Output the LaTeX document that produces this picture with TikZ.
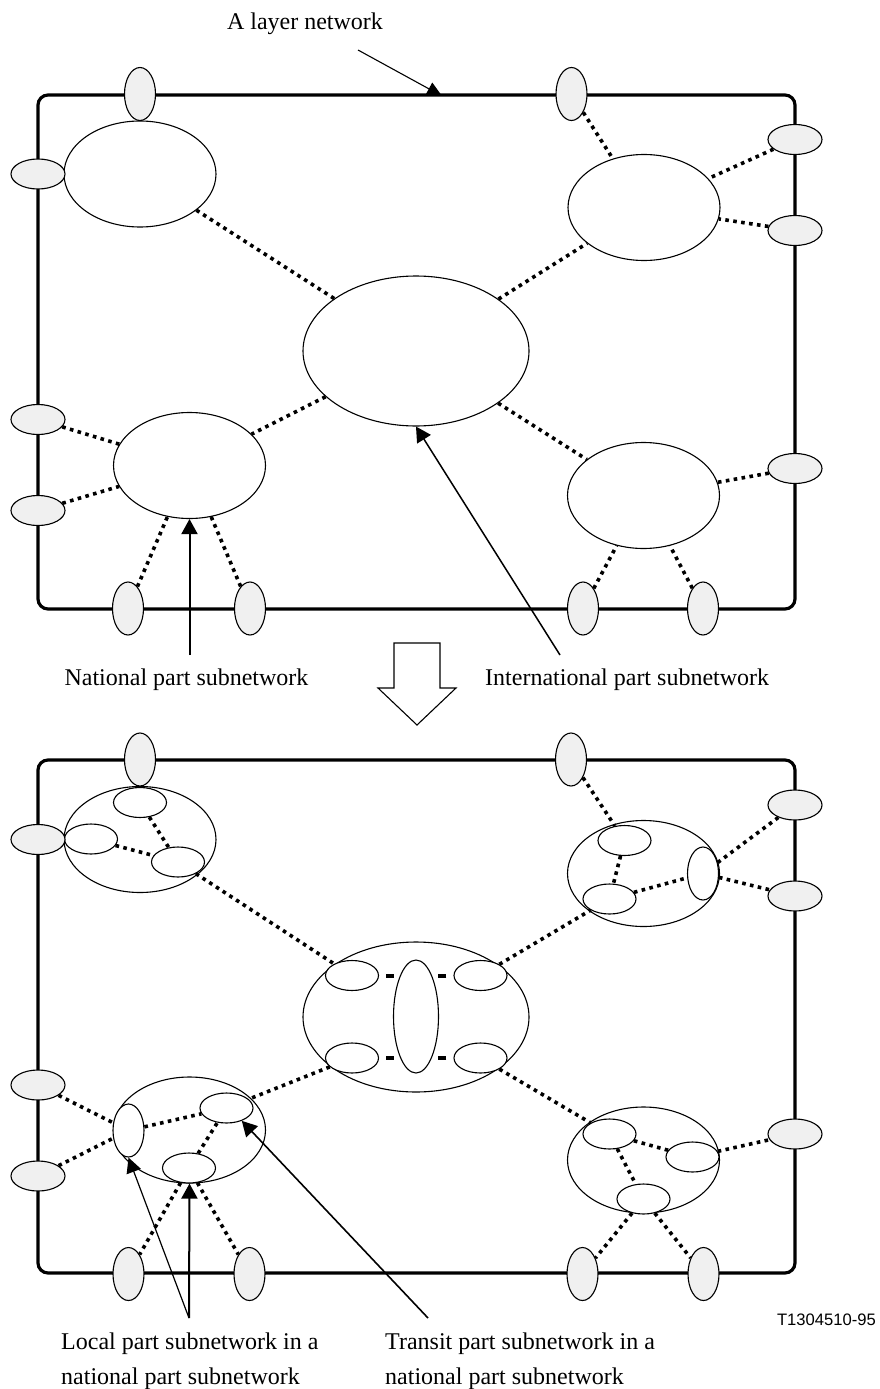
\documentclass[tikz,border=0pt]{standalone}
\usepackage{fontspec}
\setmainfont{Liberation Serif}
\newfontfamily\labelsans{Liberation Sans}
\usetikzlibrary{shapes.geometric,arrows.meta}
\definecolor{portgray}{RGB}{240,240,240}
\begin{document}
\begin{tikzpicture}[x=1pt,y=-1pt,
  frame/.style={line width=3.2pt, rounded corners=10pt},
  port/.style={ellipse, draw, line width=1.1pt, fill=portgray, inner sep=0pt},
  portv/.style={port, minimum width=31pt, minimum height=53pt},
  porth/.style={port, minimum width=54pt, minimum height=30pt},
  subn/.style={ellipse, draw, line width=1.1pt, fill=white, inner sep=0pt},
  bigsub/.style={subn, minimum width=152pt, minimum height=106pt},
  censub/.style={subn, minimum width=226pt, minimum height=150pt},
  innh/.style={subn, minimum width=53pt, minimum height=30pt},
  innv/.style={subn, minimum width=31pt, minimum height=53pt},
  link/.style={line width=3.6pt, dash pattern=on 3.6pt off 4.4pt},
  dashlink/.style={line width=4pt, shorten <=7pt, shorten >=-1pt},
  lbl/.style={font=\fontsize{24}{28}\selectfont, inner sep=0pt},
  ptr/.style={line width=2pt, -{Triangle[length=15pt,width=16pt]}},
  thinptr/.style={line width=1.2pt, -{Triangle[length=15pt,width=15pt]}},
]
\useasboundingbox (0,0) rectangle (880,1389);

% ---------------- top panel ----------------
\draw[frame] (38,95) rectangle (795,609);
\node[bigsub] (tl) at (140,174) {};
\node[bigsub] (tr) at (644,207.5) {};
\node[censub] (ctr) at (416,351) {};
\node[bigsub] (bl) at (189.5,465.5) {};
\node[bigsub] (br) at (643.5,495.5) {};

\node[portv] (p1) at (140,94) {};
\node[porth] (p2) at (38,174) {};
\node[portv] (p3) at (571.5,94) {};
\node[porth] (p4) at (795,139.5) {};
\node[porth] (p5) at (795,230.5) {};
\node[porth] (p6) at (38,419.5) {};
\node[porth] (p7) at (38,510.5) {};
\node[portv] (p8) at (128,608.5) {};
\node[portv] (p9) at (250,608.5) {};
\node[portv] (p10) at (583,608.5) {};
\node[portv] (p11) at (703,608.5) {};
\node[porth] (p12) at (795,468.5) {};

\draw[link] (tl) -- (ctr);
\draw[link] (ctr) -- (tr);
\draw[link] (ctr) -- (bl);
\draw[link] (ctr) -- (br);
\draw[link] (p3) -- (tr);
\draw[link] (p4) -- (tr);
\draw[link] (p5) -- (tr);
\draw[link] (p6) -- (bl);
\draw[link] (p7) -- (bl);
\draw[link] (p8) -- (bl);
\draw[link] (p9) -- (bl);
\draw[link] (p12) -- (br);
\draw[link] (p10) -- (br);
\draw[link] (p11) -- (br);

\node[lbl, anchor=base] (layer) at (305,30) {A layer network};
\coordinate (layertail) at (358,50);
\coordinate (layertip) at (442,96);
\draw[line width=1.1pt, -{Triangle[length=15pt,width=14pt]}] (layertail) -- (layertip);

\node[lbl, anchor=base] (natl) at (186.5,685) {National part subnetwork};
\coordinate (natltail) at (189.5,655);
\draw[ptr] (natltail) -- (bl.south);

\node[lbl, anchor=base west] (intl) at (485,685) {International part subnetwork};
\coordinate (intltail) at (560,655);
\draw[ptr, line width=1.5pt] (intltail) -- (ctr.south);

% hollow transition arrow
\draw[line width=1.1pt, fill=white] (394,643) -- (440,643) -- (440,688) -- (456,688)
  -- (417,725) -- (378,688) -- (394,688) -- cycle;

% ---------------- bottom panel ----------------
\draw[frame] (38,760) rectangle (795,1273);
\node[bigsub] (btl) at (140,839.5) {};
\node[bigsub] (btr) at (643.5,873.5) {};
\node[censub] (bctr) at (416,1017) {};
\node[bigsub] (bbl) at (189.5,1130) {};
\node[bigsub] (bbr) at (643.5,1160) {};

\node[innh] (btlA) at (140,802.5) {};
\node[innh] (btlB) at (91,839) {};
\node[innh] (btlC) at (178,862) {};
\node[innh] (btrA) at (624.5,840.5) {};
\node[innh] (btrC) at (609.5,899) {};
\node[innv] (btrV) at (703,873.5) {};
\node[innh] (bcA) at (352,975.5) {};
\node[innh] (bcB) at (480.5,975.5) {};
\node[innh] (bcC) at (352,1058) {};
\node[innh] (bcD) at (480.5,1058) {};
\node[subn, minimum width=45pt, minimum height=113pt] (bcV) at (416,1016.5) {};
\node[innv] (bblV) at (128.5,1130.5) {};
\node[innh] (bblT) at (226.5,1108) {};
\node[innh] (bblB) at (189,1168) {};
\node[innh] (bbrA) at (609.5,1134) {};
\node[innh] (bbrR) at (692.5,1157) {};
\node[innh] (bbrB) at (643.5,1199) {};

\node[portv] (q1) at (140,759.5) {};
\node[porth] (q2) at (38,839.5) {};
\node[portv] (q3) at (571,759.5) {};
\node[porth] (q4) at (795,805) {};
\node[porth] (q5) at (795,896) {};
\node[porth] (q6) at (38,1085) {};
\node[porth] (q7) at (38,1176) {};
\node[portv] (q8) at (128.5,1274) {};
\node[portv] (q9) at (249.5,1274) {};
\node[portv] (q10) at (582.5,1274) {};
\node[portv] (q11) at (703.5,1274) {};
\node[porth] (q12) at (795,1134) {};

\draw[link] (btlA) -- (btlC);
\draw[link] (btlB) -- (btlC);
\draw[link] (btlC) -- (bcA);
\draw[link] (bcB) -- (btrC);
\draw[link] (bcC) -- (bblT);
\draw[link] (bcD) -- (bbrA);
\draw[link] (q3) -- (btrA);
\draw[link] (btrA) -- (btrC);
\draw[link] (btrC) -- (btrV);
\draw[link] (btrV) -- (q4);
\draw[link] (btrV) -- (q5);
\draw[link] (q6) -- (bblV);
\draw[link] (q7) -- (bblV);
\draw[link] (bblV) -- (bblT);
\draw[link] (bblB) -- (bblT);
\draw[link] (bblB) -- (q8);
\draw[link] (bblB) -- (q9);
\draw[link] (bbrA) -- (bbrR);
\draw[link] (bbrA) -- (bbrB);
\draw[link] (bbrR) -- (q12);
\draw[link] (bbrB) -- (q10);
\draw[link] (bbrB) -- (q11);

\draw[dashlink] (bcA.east) -- (bcA.east -| bcV.west);
\draw[dashlink] (bcC.east) -- (bcC.east -| bcV.west);
\draw[dashlink] (bcB.west) -- (bcB.west -| bcV.east);
\draw[dashlink] (bcD.west) -- (bcD.west -| bcV.east);

\coordinate (localtail) at (189,1318);
\draw[ptr] (localtail) -- (bbl.south);
\draw[thinptr] (localtail) -- (bblV.south);
\coordinate (transtail) at (428,1318);
\draw[ptr, line width=1.6pt] (transtail) -- (bblT.-40);

\node[lbl, anchor=base west] (loc1) at (61,1349) {Local part subnetwork in a};
\node[lbl, anchor=base west] (loc2) at (61,1384) {national part subnetwork};
\node[lbl, anchor=base west] (tra1) at (385,1349) {Transit part subnetwork in a};
\node[lbl, anchor=base west] (tra2) at (385,1384) {national part subnetwork};
\node[font=\labelsans\fontsize{16.6}{20}\selectfont, anchor=base east, inner sep=0pt] (figid) at (876,1325) {T1304510-95};
\end{tikzpicture}
\end{document}
